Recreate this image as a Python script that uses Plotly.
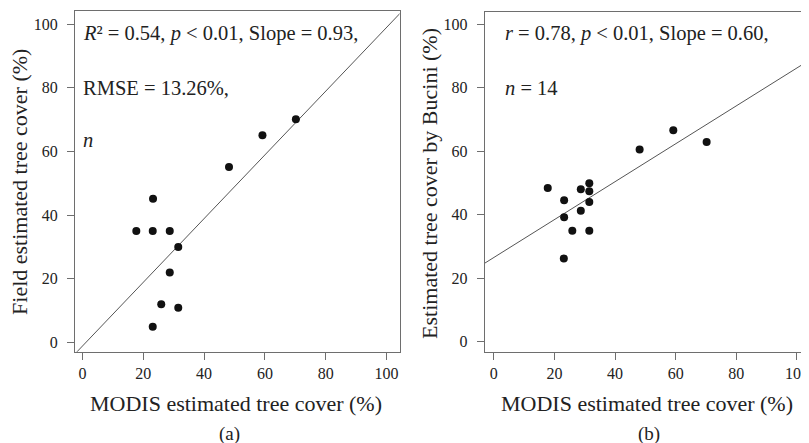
import plotly.graph_objects as go

# ---------------- data ----------------
# Panel (a): MODIS vs field-estimated tree cover
modis_a = [23.2, 48.2, 59.2, 70.2, 17.7, 23.1, 28.7, 31.5, 28.7, 25.9, 31.5, 23.1]
field_a = [45.1, 55.1, 65.1, 70.1, 35.0, 35.0, 35.0, 30.0, 22.0, 12.0, 10.9, 4.9]
fit_a_slope = 1.0
fit_a_intercept = -1.1

# Panel (b): MODIS vs Bucini estimated tree cover
modis_b = [17.8, 23.2, 28.7, 31.5, 31.5, 31.5, 28.7, 23.2, 48.1, 59.2, 70.2, 25.9, 31.5, 23.1]
bucini_b = [48.4, 44.5, 48.0, 49.9, 47.4, 44.0, 41.2, 39.2, 60.5, 66.6, 62.9, 34.9, 34.9, 26.2]
fit_b_slope = 0.597
fit_b_intercept = 26.5

tick_vals = [0, 20, 40, 60, 80, 100]
tick_text = ["0", "20", "40", "60", "80", "100"]

stats_a = ["<i>R</i>² = 0.54, <i>p</i> < 0.01, Slope = 0.93,", "RMSE = 13.26%,", "<i>n</i>"]
stats_b = ["<i>r</i> = 0.78, <i>p</i> < 0.01, Slope = 0.60,", "<i>n</i> = 14"]

x_title = "MODIS estimated tree cover (%)"
y_title_a = "Field estimated tree cover (%)"
y_title_b = "Estimated tree cover by Bucini (%)"
panel_labels = ["(a)", "(b)"]

# ---------------- layout helpers ----------------
# the page body has an 8px margin, so the figure is 8px smaller and all
# page-pixel positions below are shifted by that offset
OFF = 8
W, H = 809 - OFF, 443 - OFF
FONT = "Liberation Serif, Times New Roman, serif"
AX = "#6e6e6e"


def px(x):
    return (x - OFF) / W


def py(y):
    return 1 - (y - OFF) / H


line_x = [-10, 110]

fig = go.Figure()
fig.add_trace(go.Scatter(x=line_x, y=[fit_a_intercept + fit_a_slope * v for v in line_x],
                         mode="lines", line=dict(color="#555555", width=1),
                         xaxis="x", yaxis="y", showlegend=False, hoverinfo="skip"))
fig.add_trace(go.Scatter(x=modis_a, y=field_a, mode="markers",
                         marker=dict(color="#111111", size=8),
                         xaxis="x", yaxis="y", showlegend=False))
fig.add_trace(go.Scatter(x=line_x, y=[fit_b_intercept + fit_b_slope * v for v in line_x],
                         mode="lines", line=dict(color="#555555", width=1),
                         xaxis="x2", yaxis="y2", showlegend=False, hoverinfo="skip"))
fig.add_trace(go.Scatter(x=modis_b, y=bucini_b, mode="markers",
                         marker=dict(color="#111111", size=8),
                         xaxis="x2", yaxis="y2", showlegend=False))

common = dict(tickmode="array", tickvals=tick_vals, ticktext=tick_text,
              ticks="outside", ticklen=7, tickwidth=1, tickcolor=AX,
              showline=True, linecolor=AX, linewidth=1,
              showgrid=False, zeroline=False, ticklabeloverflow="allow",
              tickfont=dict(family=FONT, size=16, color="#222222"))

fig.update_layout(
    width=W, height=H,
    margin=dict(l=0, r=0, t=0, b=0),
    paper_bgcolor="white", plot_bgcolor="white",
    font=dict(family=FONT, color="#222222"),
    xaxis=dict(domain=[px(75), px(400.5)], range=[-2.53, 104.3], anchor="y",
               mirror=True, ticklabelstandoff=0, **common),
    yaxis=dict(domain=[py(351.7), py(11)], range=[-2.9, 104.1], anchor="x",
               mirror=True, ticklabelstandoff=6, **common),
    xaxis2=dict(domain=[px(486), 1.0], range=[-2.96, 103.3], anchor="y2",
                mirror=True, ticklabelstandoff=0, **common),
    yaxis2=dict(domain=[py(351.7), py(11.7)], range=[-3.15, 103.9], anchor="x2",
                mirror=False, ticklabelstandoff=6, **common),
)

ann = []
stat_font = dict(family=FONT, size=20.5, color="#222222")
for txt, ycen in zip(stats_a, [33.4, 88.4, 139.5]):
    ann.append(dict(text=txt, x=px(81.5), y=py(ycen), xref="paper", yref="paper",
                    xanchor="left", yanchor="middle", showarrow=False, font=stat_font))
for txt, ycen in zip(stats_b, [33.4, 88.4]):
    ann.append(dict(text=txt, x=px(504), y=py(ycen), xref="paper", yref="paper",
                    xanchor="left", yanchor="middle", showarrow=False, font=stat_font))

title_font = dict(family=FONT, size=22, color="#222222")
ann.append(dict(text=x_title, x=px(236.5), y=py(403), xref="paper", yref="paper",
                xanchor="center", yanchor="middle", showarrow=False, font=title_font))
ann.append(dict(text=x_title, x=px(648.5), y=py(403), xref="paper", yref="paper",
                xanchor="center", yanchor="middle", showarrow=False, font=title_font))
ann.append(dict(text=y_title_a, x=px(19.5), y=py(181.5), xref="paper", yref="paper",
                xanchor="center", yanchor="middle", textangle=-90, showarrow=False, font=title_font))
ann.append(dict(text=y_title_b, x=px(430), y=py(183), xref="paper", yref="paper",
                xanchor="center", yanchor="middle", textangle=-90, showarrow=False, font=title_font))

lab_font = dict(family=FONT, size=19, color="#222222")
ann.append(dict(text=panel_labels[0], x=px(230), y=py(434), xref="paper", yref="paper",
                xanchor="center", yanchor="middle", showarrow=False, font=lab_font))
ann.append(dict(text=panel_labels[1], x=px(651), y=py(434), xref="paper", yref="paper",
                xanchor="center", yanchor="middle", showarrow=False, font=lab_font))

fig.update_layout(annotations=ann)
fig.write_html("out.html")
